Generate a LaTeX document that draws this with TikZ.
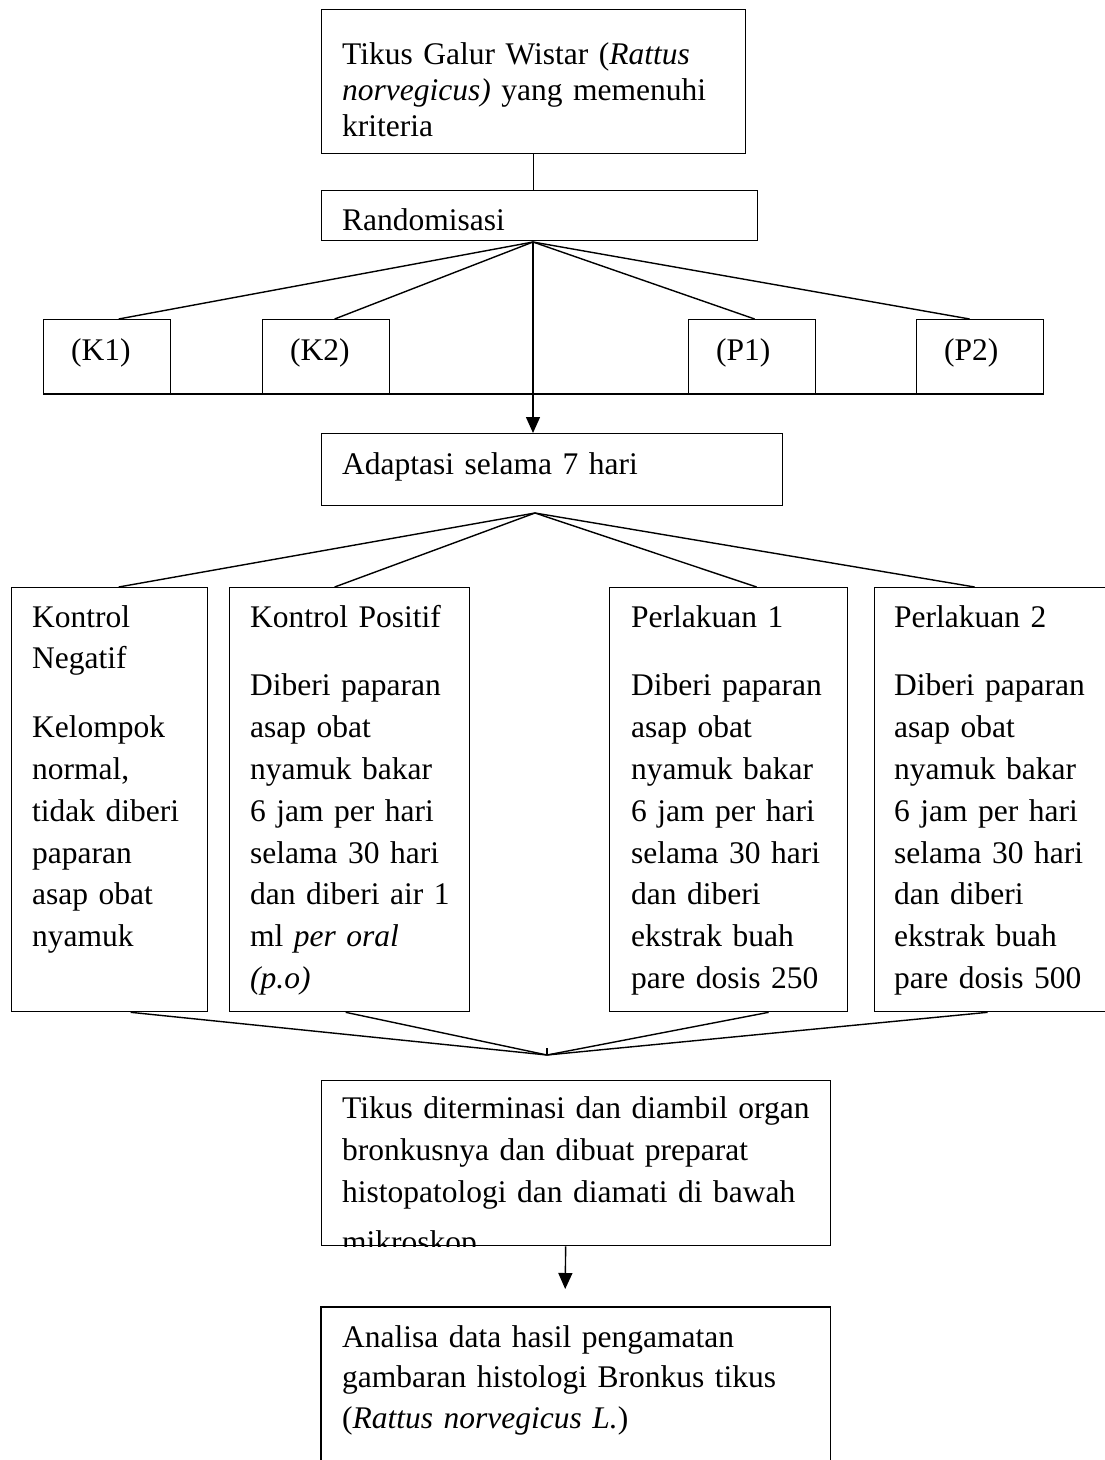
\documentclass[tikz,border=0pt]{standalone}
\usepackage{fontspec}
\setmainfont{Liberation Serif}
\usetikzlibrary{arrows.meta,calc}

\begin{document}
\begin{tikzpicture}[
    x=1pt,
    y=-1pt,
    font=\rmfamily\fontsize{31.5}{41.8}\selectfont,
    line join=miter,
    >={Triangle[length=16pt,width=14pt]},
    box/.style={
      draw=black,
      line width=1.3pt,
      anchor=north west,
      inner sep=0pt
    },
    boxtext/.style={
      anchor=base west,
      inner sep=0pt,
      align=left,
      text width=480pt
    },
    link/.style={
      draw=black,
      line width=1.4pt
    }
]
\useasboundingbox (0,0) rectangle (1105,1460);

% Start: the rats and the randomisation.
\node[box,minimum width=424pt,minimum height=144pt] (rats) at (321,9) {};
\node[boxtext,font=\fontsize{31.5}{36}\selectfont] (ratstext) at (342,64)
  {Tikus Galur Wistar (\textit{Rattus}\\
   \textit{norvegicus)} yang memenuhi\\
   kriteria};

\node[box,minimum width=436pt,minimum height=50pt] (acak) at (321,190) {};
\node[boxtext] (acaktext) at (342,230) {Randomisasi};
\draw[link] (rats.south) -- (rats.south |- acak.north);

\coordinate (fanA) at (533,242);

% Four groups after randomisation.
\foreach \name/\x/\lab/\dx in {k1/43/(K1)/11.5, k2/262/(K2)/8.5,
                               p1/688/(P1)/2.5, p2/916/(P2)/-10.5} {
  \node[box,minimum width=127pt,minimum height=74pt] (\name) at (\x,319) {};
  \node[boxtext] (\name text) at (\x+28,360) {\lab};
  \draw[link] (fanA) -- ([xshift=\dx pt]\name.north);
}
\draw[draw=black,line width=2pt] (k1.south west) -- (p2.south east);

% Adaptation.
\node[box,minimum width=461pt,minimum height=72pt] (adapt) at (321,433) {};
\node[boxtext] (adapttext) at (342,474) {Adaptasi selama 7 hari};
\draw[link,->] (fanA) -- (fanA |- adapt.north);

\coordinate (fanB) at (535,513);

% Treatment groups.
\node[box,minimum width=196pt,minimum height=424pt] (kneg) at (11,587) {};
\node[box,minimum width=240pt,minimum height=424pt] (kpos) at (229,587) {};
\node[box,minimum width=238pt,minimum height=424pt] (per1) at (609,587) {};
\node[box,minimum width=236pt,minimum height=424pt] (per2) at (874,587) {};

\node[boxtext,text width=180pt] (knegtext) at (32,627)
  {Kontrol\\ Negatif\\[27pt]
   Kelompok\\ normal,\\ tidak diberi\\ paparan\\ asap obat\\ nyamuk};
\node[boxtext,text width=215pt] (kpostext) at (250,627)
  {Kontrol Positif\\[27pt]
   Diberi paparan\\ asap obat\\ nyamuk bakar\\ 6 jam per hari\\
   selama 30 hari\\ dan diberi air 1\\ ml \textit{per oral}\\ \textit{(p.o)}};
\node[boxtext,text width=215pt] (per1text) at (631,627)
  {Perlakuan 1\\[27pt]
   Diberi paparan\\ asap obat\\ nyamuk bakar\\ 6 jam per hari\\
   selama 30 hari\\ dan diberi\\ ekstrak buah\\ pare dosis 250};
\node[boxtext,text width=205pt] (per2text) at (894,627)
  {Perlakuan 2\\[27pt]
   Diberi paparan\\ asap obat\\ nyamuk bakar\\ 6 jam per hari\\
   selama 30 hari\\ dan diberi\\ ekstrak buah\\ pare dosis 500};

\coordinate (fanC) at (547,1055);
\foreach \name/\up/\down in {kneg/9/21, kpos/-15/-4, per1/28/40, per2/-18/-5} {
  \draw[link] (fanB) -- ([xshift=\up pt]\name.north);
  \draw[link] ([xshift=\down pt]\name.south) -- (fanC);
}
\draw[link] (fanC) -- ++(0,-7);

% Histology and analysis.
\node[box,minimum width=509pt,minimum height=165pt] (histo) at (321,1080) {};
\begin{scope}
  \clip (histo.north west) rectangle (histo.south east);
  \node[boxtext,font=\fontsize{31.5}{42}\selectfont] (histotext) at (342,1118)
    {Tikus diterminasi dan diambil organ\\
     bronkusnya dan dibuat preparat\\
     histopatologi dan diamati di bawah\\[8pt]
     mikroskop};
\end{scope}

\node[anchor=north west,inner sep=0pt,minimum width=509pt,minimum height=153pt]
  (analisa) at (321,1307) {};
\draw[draw=black,line width=1.3pt] (analisa.south west) -- (analisa.north west)
  -- (analisa.north east) -- (analisa.south east);
\node[boxtext,font=\fontsize{31.5}{40.5}\selectfont] (analisatext) at (342,1347)
  {Analisa data hasil pengamatan\\
   gambaran histologi Bronkus tikus\\
   (\textit{Rattus norvegicus L.})};
\draw[link,->] ([xshift=-10.5pt]histo.south)
  -- ([xshift=-10.5pt,yshift=18pt]analisa.north);

\end{tikzpicture}
\end{document}
